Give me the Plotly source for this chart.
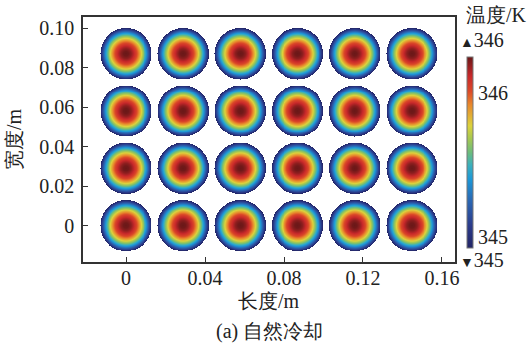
import numpy as np
import plotly.graph_objects as go

# ---- data ----
col_centers_m = [0.0, 0.029, 0.058, 0.087, 0.116, 0.145]   # x of cell centres (长度)
row_centers_m = [0.0, 0.029, 0.058, 0.087]                  # y of cell centres (宽度)
cell_radius_m = 0.013
# radial temperature profile (r / R  ->  T in K)
profile_r_frac = [0.0, 0.1, 0.2, 0.3, 0.4, 0.5, 0.6, 0.7, 0.8, 0.9, 1.0]
profile_temp_K = [346.25, 346.24, 346.20, 346.13, 346.04, 345.92, 345.77, 345.60, 345.40, 345.17, 344.92]
t_min, t_max = 344.92, 346.25
x_ticks = [0, 0.04, 0.08, 0.12, 0.16]
x_tick_text = ["0", "0.04", "0.08", "0.12", "0.16"]
y_ticks = [0, 0.02, 0.04, 0.06, 0.08, 0.10]
y_tick_text = ["0", "0.02", "0.04", "0.06", "0.08", "0.10"]
cb_ticks = [345, 346]
cb_tick_text = ["345", "346"]

# ---- build the temperature field ----
step = 0.00025
xs = np.arange(-0.016, 0.1615, step)
ys = np.arange(-0.016, 0.1035, step)
X, Y = np.meshgrid(xs, ys)
Z = np.full(X.shape, np.nan)
for cx in col_centers_m:
    for cy in row_centers_m:
        r = np.hypot(X - cx, Y - cy) / cell_radius_m
        m = r <= 1.0
        Z[m] = np.interp(r[m], profile_r_frac, profile_temp_K)

colorscale = [
    [0.00, "#232565"],
    [0.12, "#2b3c8c"],
    [0.25, "#2a68b4"],
    [0.36, "#1c98d8"],
    [0.435, "#3cb0bc"],
    [0.50, "#6cbc7c"],
    [0.575, "#a8c850"],
    [0.64, "#dcd23c"],
    [0.75, "#e8882c"],
    [0.82, "#dc4a28"],
    [0.90, "#c8282a"],
    [1.00, "#6a1818"],
]

FONT = "Liberation Serif"
TXT = "#222222"

fig = go.Figure()
fig.add_trace(go.Heatmap(
    x=xs, y=ys, z=Z, zmin=t_min, zmax=t_max,
    colorscale=colorscale, hoverinfo="skip",
    colorbar=dict(
        x=(467 - 83) / 372, xanchor="left", xpad=0,
        y=(262 - 152.5) / 245, yanchor="middle", ypad=0,
        thickness=6, thicknessmode="pixels",
        len=191, lenmode="pixels",
        outlinewidth=1, outlinecolor="#777777",
        tickvals=cb_ticks, ticktext=cb_tick_text,
        ticks="",
        tickfont=dict(family=FONT, size=20, color=TXT),
    ),
))

axis_common = dict(
    showline=True, mirror=True, linecolor="#333333", linewidth=1.5,
    ticks="inside", ticklen=5, tickcolor="#333333", tickwidth=1,
    showgrid=False, zeroline=False,
    tickfont=dict(family=FONT, size=20, color=TXT),
)
fig.update_xaxes(range=[-0.0218, 0.1666], tickvals=x_ticks, ticktext=x_tick_text,
                 ticklabelstandoff=-3, **axis_common)
fig.update_yaxes(range=[-0.0182, 0.1056], tickvals=y_ticks, ticktext=y_tick_text,
                 ticklabelstandoff=3, **axis_common)

def ann(text, x, y, size=20, angle=0):
    fig.add_annotation(text=text, x=x, y=y, xref="paper", yref="paper",
                       showarrow=False, textangle=angle,
                       font=dict(family=FONT, size=size, color=TXT),
                       xanchor="center", yanchor="middle")

px = lambda p: (p - 83) / 372
py = lambda p: (262 - p) / 245
ann("长度/m", px(269), py(301))
ann("(a) 自然冷却", px(269), py(332))
ann("宽度/m", px(14), py(139), angle=-90)
ann("温度/K", px(497), py(15))
ann("<span style='font-size:14px'>▲</span>346", px(482), py(40))
ann("<span style='font-size:14px'>▼</span>345", px(482), py(260))

fig.update_layout(
    width=530, height=351,
    margin=dict(l=83, r=75, t=17, b=89),
    paper_bgcolor="white", plot_bgcolor="white",
    showlegend=False,
)
fig.write_html("out.html")
